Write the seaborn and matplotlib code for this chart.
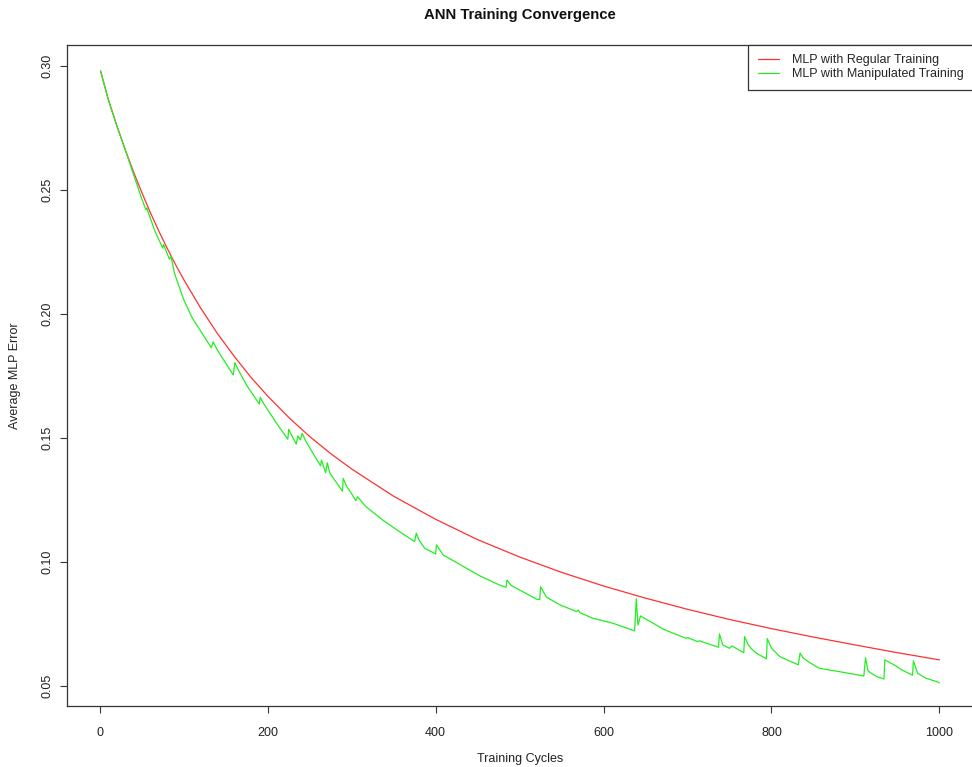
import matplotlib
matplotlib.use("Agg")
import matplotlib.pyplot as plt
import seaborn as sns
import pandas as pd

# ---- data ----
title = "ANN Training Convergence"
x_label = "Training Cycles"
y_label = "Average MLP Error"
series_names = ["MLP with Regular Training", "MLP with Manipulated Training"]
x_ticks = [0, 200, 400, 600, 800, 1000]
y_ticks = [0.05, 0.10, 0.15, 0.20, 0.25, 0.30]

regular_cycles = [1, 10, 20, 30, 40, 50, 60, 70, 80, 90, 100, 120, 140, 160, 180,
                  200, 225, 250, 275, 300, 350, 400, 450, 500, 550, 600, 650, 700,
                  750, 800, 850, 900, 950, 1000]
regular_error = [0.2980, 0.2867, 0.2763, 0.2666, 0.2575, 0.2491, 0.2411, 0.2337,
                 0.2267, 0.2201, 0.2139, 0.2025, 0.1922, 0.1830, 0.1745, 0.1669,
                 0.1583, 0.1506, 0.1437, 0.1375, 0.1265, 0.1172, 0.1090, 0.1020,
                 0.0958, 0.0903, 0.0854, 0.0809, 0.0768, 0.0731, 0.0697, 0.0665,
                 0.0634, 0.0605]

manip_cycles = [1, 10, 20, 30, 40, 50, 55, 56, 65, 75, 76, 83, 85, 89, 100, 110, 127,
                133, 135, 140, 159, 161, 165, 175, 190, 191, 195, 210, 224, 225, 234,
                236, 239, 241, 245, 255, 263, 264, 269, 271, 274, 289, 290, 294, 300,
                305, 307, 317, 337, 357, 375, 377, 380, 387, 393, 400, 401, 409, 429,
                452, 476, 484, 485, 490, 505, 520, 524, 525, 532, 548, 568, 570, 572,
                587, 611, 637, 639, 641, 644, 659, 671, 698, 700, 712, 714, 737, 738,
                742, 750, 753, 767, 768, 772, 776, 782, 794, 795, 800, 810, 832, 834,
                838, 845, 857, 880, 910, 912, 915, 925, 934, 935, 948, 955, 968, 969,
                974, 984, 998, 1000]
manip_error = [0.2980, 0.2867, 0.2763, 0.2666, 0.2565, 0.2465, 0.2420, 0.2428, 0.2340,
               0.2266, 0.2280, 0.2221, 0.2232, 0.2164, 0.2058, 0.1985, 0.1895,
               0.1864, 0.1888, 0.1855, 0.1754, 0.1804, 0.1775, 0.1712, 0.1637, 0.1664,
               0.1640, 0.1562, 0.1495, 0.1535, 0.1475, 0.1508, 0.1492, 0.1519, 0.1490,
               0.1432, 0.1388, 0.1411, 0.1360, 0.1400, 0.1358, 0.1286, 0.1337, 0.1305,
               0.1275, 0.1247, 0.1263, 0.1223, 0.1169, 0.1122, 0.1082, 0.1116, 0.1090,
               0.1055, 0.1045, 0.1032, 0.1069, 0.1028, 0.0990, 0.0945, 0.0907, 0.0898,
               0.0927, 0.0905, 0.0878, 0.0850, 0.0848, 0.0900, 0.0858, 0.0827, 0.0800,
               0.0806, 0.0795, 0.0773, 0.0753, 0.0722, 0.0852, 0.0746, 0.0782, 0.0753,
               0.0729, 0.0692, 0.0695, 0.0679, 0.0682, 0.0656, 0.0710, 0.0665, 0.0652,
               0.0661, 0.0634, 0.0699, 0.0668, 0.0650, 0.0632, 0.0609, 0.0691, 0.0652,
               0.0618, 0.0585, 0.0632, 0.0612, 0.0595, 0.0571, 0.0558, 0.0540, 0.0614,
               0.0560, 0.0538, 0.0528, 0.0605, 0.0581, 0.0565, 0.0543, 0.0601, 0.0551,
               0.0531, 0.0516, 0.0512]

# ---- styling ----
sns.set_style("white")
plt.rcParams["font.family"] = ["Liberation Sans", "DejaVu Sans"]

W, H = 972, 767
fig = plt.figure(figsize=(W / 100, H / 100), dpi=100)
ax_left, ax_right, ax_top, ax_bottom = 67, 973, 45, 706
ax = fig.add_axes([ax_left / W, 1 - ax_bottom / H,
                   (ax_right - ax_left) / W, (ax_bottom - ax_top) / H])

reg_df = pd.DataFrame({"cycle": regular_cycles, "error": regular_error})
man_df = pd.DataFrame({"cycle": manip_cycles, "error": manip_error})

sns.lineplot(data=reg_df, x="cycle", y="error", color="#ff3030", linewidth=0.9,
             ax=ax, label=series_names[0], sort=False, estimator=None)
sns.lineplot(data=man_df, x="cycle", y="error", color="#22ee22", linewidth=0.9,
             ax=ax, label=series_names[1], sort=False, estimator=None)

ax.set_xlim(-39, 1040)
ax.set_ylim(0.0419, 0.3085)
ax.set_xticks(x_ticks)
ax.set_xticklabels([str(t) for t in x_ticks])
ax.set_yticks(y_ticks)
ax.set_yticklabels([f"{t:.2f}" for t in y_ticks], rotation=90, va="center")
ax.tick_params(axis="both", which="major", direction="out", length=5, width=0.8,
               color="#333333", labelsize=9, labelcolor="#222222", bottom=True, left=True)
ax.tick_params(axis="x", pad=10)
ax.tick_params(axis="y", pad=5)
for sp in ax.spines.values():
    sp.set_visible(True)
    sp.set_color("#333333")
    sp.set_linewidth(0.9)
ax.set_xlabel("")
ax.set_ylabel("")

cx = (ax_left + ax_right) / 2 / W
fig.text(cx, 1 - 15 / H, title, ha="center", va="center", fontsize=10.7,
         fontweight="bold", color="#111111")
fig.text(cx, 1 - 759 / H, x_label, ha="center", va="center", fontsize=9,
         color="#222222")
fig.text(15 / W, 1 - ((ax_top + ax_bottom) / 2) / H, y_label, ha="center",
         va="center", rotation=90, fontsize=9, color="#222222")

leg = ax.legend(loc="upper right", borderaxespad=0, frameon=True, fancybox=False,
                fontsize=9, handlelength=1.75, handletextpad=1.0,
                borderpad=0.75, labelspacing=0.15)
leg.get_frame().set_edgecolor("#333333")
leg.get_frame().set_linewidth(0.9)
leg.get_frame().set_alpha(1)

fig.savefig("out.png", dpi=100, facecolor="white")
